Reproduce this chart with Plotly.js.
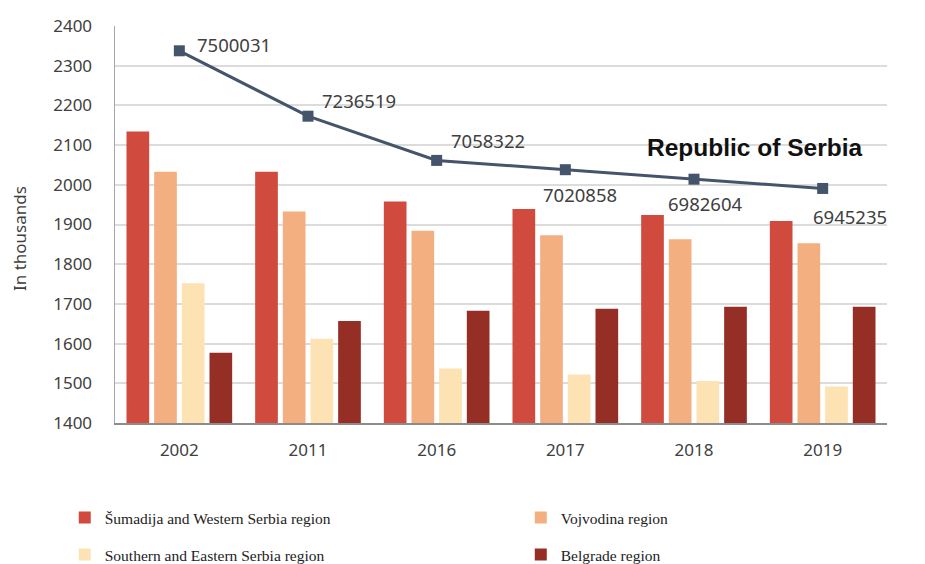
<!DOCTYPE html>
<html>
<head>
<meta charset="utf-8">
<script src="https://cdn.plot.ly/plotly-3.0.1.min.js"></script>
<style>html,body{margin:0;padding:0;background:#fff;}#chart{width:925px;height:564px;}</style>
</head>
<body>
<div id="chart"></div>
<script>
const years = ['2002', '2011', '2016', '2017', '2018', '2019'];
const sumadija = [2134, 2033, 1958, 1939, 1924, 1909];
const vojvodina = [2033, 1933, 1884, 1873, 1863, 1853];
const southEast = [1752, 1612, 1537, 1522, 1506, 1492];
const belgrade = [1577, 1657, 1683, 1688, 1693, 1693];
const republic = [7500031, 7236519, 7058322, 7020858, 6982604, 6945235];
const republicLabels = ['7500031', '7236519', '7058322', '7020858', '6982604', '6945235'];
const names = ['Šumadija and Western Serbia region', 'Vojvodina region', 'Southern and Eastern Serbia region', 'Belgrade region'];

const colors = ['#D04A3D', '#F3AF80', '#FDE2B4', '#952E24'];
const series = [sumadija, vojvodina, southEast, belgrade];
const legendIds = ['legend', 'legend2', 'legend3', 'legend4'];

const traces = series.map((vals, i) => ({
  type: 'bar', x: years, y: vals, name: names[i],
  marker: {color: colors[i]}, legend: legendIds[i], hoverinfo: 'x+y'
}));
traces.push({
  type: 'scatter', mode: 'lines+markers', x: years, y: republic, yaxis: 'y2',
  line: {color: '#44546A', width: 3}, marker: {symbol: 'square', size: 11, color: '#44546A'},
  showlegend: false, name: 'Republic of Serbia'
});

const labelOffsets = [[16, 6, 'left'], [12, 16, 'left'], [12, 20, 'left'], [15, -25, 'center'], [11, -24, 'center'], [27, -28, 'center']];
const annotations = years.map((yr, i) => ({
  x: i, y: republic[i], xref: 'x', yref: 'y2', text: republicLabels[i], showarrow: false,
  xanchor: labelOffsets[i][2], yanchor: 'middle', xshift: labelOffsets[i][0], yshift: labelOffsets[i][1],
  font: {family: 'Noto Sans, sans-serif', size: 18.5, color: '#404040'}
}));
annotations.push({
  x: (645 - 115) / 772, y: (423 - 147) / 397, xref: 'paper', yref: 'paper', xanchor: 'left', yanchor: 'middle',
  text: '<b>Republic of Serbia</b>', showarrow: false,
  font: {family: 'Liberation Sans, sans-serif', size: 24.5, color: '#111111'}
});
annotations.push({
  x: (20 - 115) / 772, y: (423 - 239) / 397, xref: 'paper', yref: 'paper', xanchor: 'center', yanchor: 'middle',
  text: 'In thousands', textangle: -90, showarrow: false,
  font: {family: 'Noto Sans, sans-serif', size: 17, color: '#404040'}
});

const legendFont = {family: 'Liberation Serif, serif', size: 15.5, color: '#222222'};
const legendPos = [[0.07, 518], [0.563, 518], [0.07, 555], [0.563, 555]];
const layout = {
  width: 925, height: 564,
  margin: {l: 115, r: 38, t: 26, b: 141, autoexpand: false},
  paper_bgcolor: '#ffffff', plot_bgcolor: '#ffffff',
  barmode: 'group', bargap: 0.14, bargroupgap: 0.18,
  font: {family: 'Noto Sans, sans-serif', color: '#404040'},
  xaxis: {
    type: 'category', range: [-0.5, 5.5], autorange: false, showgrid: false, showline: true, linecolor: '#8c8c8c', linewidth: 1.5,
    ticks: '', tickfont: {size: 17, color: '#404040'}, ticklabelstandoff: 11, zeroline: false, fixedrange: true
  },
  yaxis: {
    range: [1400, 2400], dtick: 100, showgrid: true, gridcolor: '#DCDCDC', gridwidth: 2,
    showline: true, linecolor: '#a6a6a6', linewidth: 1.5, ticks: '', zeroline: false,
    tickfont: {size: 17, color: '#404040'}, ticklabelstandoff: 18
  },
  yaxis2: {range: [6000000, 7600000], overlaying: 'y', side: 'right', visible: false, showgrid: false},
  annotations: annotations,
  showlegend: true
};
legendIds.forEach((id, i) => {
  layout[id] = {orientation: 'h', xref: 'container', yref: 'paper', x: legendPos[i][0], y: (423 - legendPos[i][1]) / 397,
    xanchor: 'left', yanchor: 'middle', font: legendFont, bgcolor: 'rgba(0,0,0,0)', borderwidth: 0,
    itemclick: false, itemdoubleclick: false};
});

Plotly.newPlot('chart', traces, layout, {displayModeBar: false, staticPlot: true});
</script>
</body>
</html>
